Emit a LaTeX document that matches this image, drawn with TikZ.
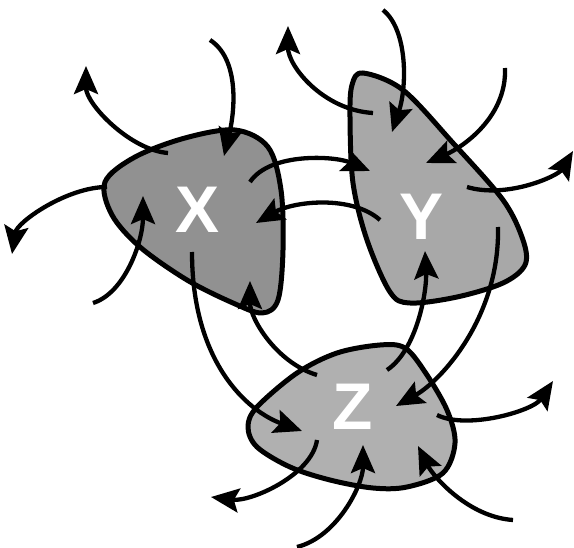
\documentclass[tikz,border=0pt]{standalone}
\usepackage{fontspec}
\setsansfont{Liberation Sans}
\usetikzlibrary{arrows.meta}
\definecolor{xfill}{gray}{0.57}
\definecolor{yfill}{gray}{0.66}
\definecolor{zfill}{gray}{0.69}

\begin{document}
\begin{tikzpicture}[x=1pt,y=-1pt,
    blob/.style={draw=black,line width=5pt,line join=round},
    flow/.style={line width=4.3pt,-{Stealth[length=28pt,width=24pt,inset=5pt]}},
    letter/.style={text=white,font=\sffamily\bfseries\fontsize{66}{66}\selectfont}]

    \useasboundingbox (0,0) rectangle (574,548);

    % the three regions
    \draw[blob,fill=xfill] plot[smooth cycle,tension=0.55] coordinates {(105,182) (135,157) (185,138) (235,130) (268,147) (281,190) (283,250) (278,300) (262,313) (233,303) (187,280) (140,247) (112,215)};
    \draw[blob,fill=yfill] plot[smooth cycle,tension=0.55] coordinates {(363,73) (403,90) (453,143) (503,200) (523,240) (525,265) (503,283) (457,297) (410,303) (390,292) (367,240) (353,183) (350,117) (352,85)};
    \draw[blob,fill=zfill] plot[smooth cycle,tension=0.55] coordinates {(380,345) (405,348) (425,372) (447,410) (455,443) (443,473) (407,487) (373,488) (330,480) (290,467) (257,447) (248,427) (257,407) (297,373) (337,353)};

    \node[letter] (X) at (198,210) {X};
    \node[letter] (Y) at (422,217) {Y};
    \node[letter] (Z) at (353,407) {Z};

    % end points
    \coordinate (xinA) at (210,40);   \coordinate (xinAe) at (224,156);
    \coordinate (xoutA) at (168,153); \coordinate (xoutAe) at (86,66);
    \coordinate (xoutB) at (107,187); \coordinate (xoutBe) at (12,254);
    \coordinate (xinB) at (93,303);   \coordinate (xinBe) at (143,196);
    \coordinate (xz) at (192,252);    \coordinate (xze) at (302,431);
    \coordinate (zx) at (317,375);    \coordinate (zxe) at (250,281);
    \coordinate (yx) at (380,220);    \coordinate (yxe) at (256,223);
    \coordinate (xy) at (250,182);    \coordinate (xye) at (370,171);
    \coordinate (youtA) at (373,113); \coordinate (youtAe) at (288,26);
    \coordinate (yinA) at (383,10);   \coordinate (yinAe) at (392,132);
    \coordinate (yinB) at (505,68);   \coordinate (yinBe) at (426,163);
    \coordinate (youtB) at (467,187); \coordinate (youtBe) at (573,151);
    \coordinate (yz) at (498,227);    \coordinate (yze) at (396,406);
    \coordinate (zy) at (387,370);    \coordinate (zye) at (425,251);
    \coordinate (zoutA) at (437,415); \coordinate (zoutAe) at (553,381);
    \coordinate (zinA) at (513,520);  \coordinate (zinAe) at (418,446);
    \coordinate (zinB) at (297,547);  \coordinate (zinBe) at (363,445);
    \coordinate (zoutB) at (317,440); \coordinate (zoutBe) at (211,497);

    % X
    \draw[flow] (xinA) .. controls +(28,18) and +(12,-50) .. (xinAe);
    \draw[flow] (xoutA) .. controls +(-38,-3) and +(0,38) .. (xoutAe);
    \draw[flow] (xoutB) .. controls +(-40,0) and +(5,-32) .. (xoutBe);
    \draw[flow] (xinB) .. controls +(32,-10) and +(0,45) .. (xinBe);
    % between the regions
    \draw[flow] (xz) .. controls +(0,110) and +(-55,-20) .. (xze);
    \draw[flow] (zx) .. controls +(-40,-12) and +(0,38) .. (zxe);
    \draw[flow] (yx) .. controls +(-28,-25) and +(38,-22) .. (yxe);
    \draw[flow] (xy) .. controls +(20,-30) and +(-35,-15) .. (xye);
    \draw[flow] (yz) .. controls +(2,90) and +(45,-25) .. (yze);
    \draw[flow] (zy) .. controls +(30,-20) and +(2,40) .. (zye);
    % Y
    \draw[flow] (youtA) .. controls +(-50,-3) and +(0,40) .. (youtAe);
    \draw[flow] (yinA) .. controls +(25,20) and +(15,-45) .. (yinAe);
    \draw[flow] (yinB) .. controls +(2,50) and +(35,-15) .. (yinBe);
    \draw[flow] (youtB) .. controls +(40,12) and +(-15,25) .. (youtBe);
    % Z
    \draw[flow] (zoutA) .. controls +(30,15) and +(-20,30) .. (zoutAe);
    \draw[flow] (zinA) .. controls +(-45,-3) and +(15,30) .. (zinAe);
    \draw[flow] (zinB) .. controls +(40,-10) and +(0,40) .. (zinBe);
    \draw[flow] (zoutB) .. controls +(-5,35) and +(40,5) .. (zoutBe);
\end{tikzpicture}
\end{document}
